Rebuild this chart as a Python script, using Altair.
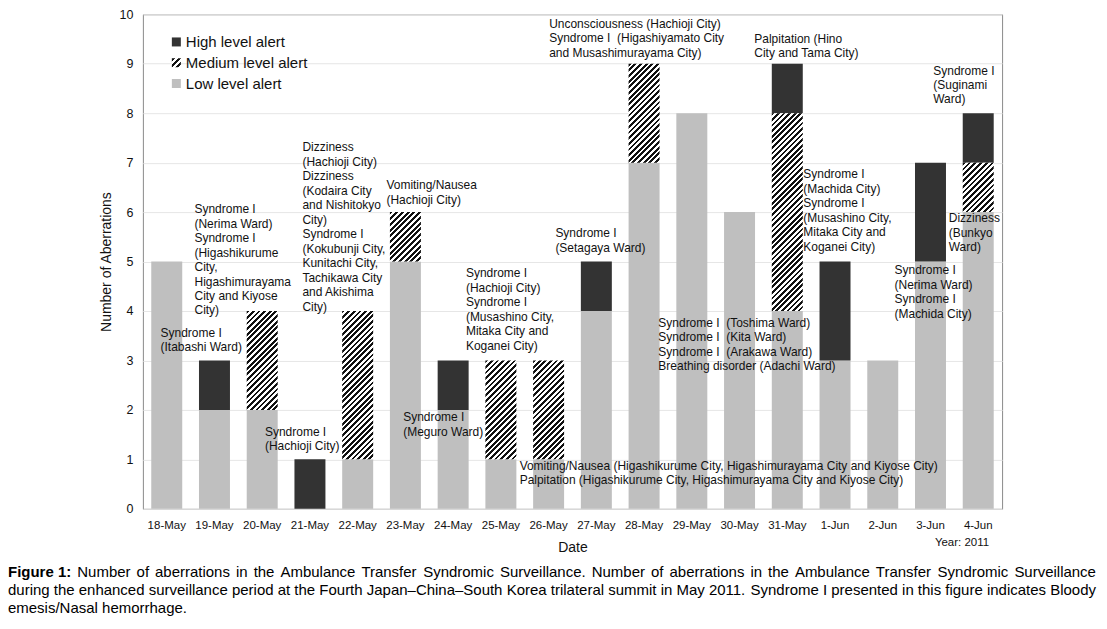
import altair as alt
import pandas as pd

# ---------------- data ----------------
dates = ["18-May", "19-May", "20-May", "21-May", "22-May", "23-May", "24-May",
         "25-May", "26-May", "27-May", "28-May", "29-May", "30-May", "31-May",
         "1-Jun", "2-Jun", "3-Jun", "4-Jun"]
low = [5, 2, 2, 0, 1, 5, 2, 1, 1, 4, 7, 8, 6, 4, 3, 3, 5, 6]
medium = [0, 0, 2, 0, 3, 1, 0, 2, 2, 0, 2, 0, 0, 4, 0, 0, 0, 1]
high = [0, 1, 0, 1, 0, 0, 1, 0, 0, 1, 0, 0, 0, 1, 2, 0, 2, 1]

legend_labels = ["High level alert", "Medium level alert", "Low level alert"]

ann_texts = [
    "Syndrome I\n(Itabashi Ward)",
    "Syndrome I\n(Nerima Ward)\nSyndrome I\n(Higashikurume\nCity,\nHigashimurayama\nCity and Kiyose\nCity)",
    "Dizziness\n(Hachioji City)\nDizziness\n(Kodaira City\nand Nishitokyo\nCity)\nSyndrome I\n(Kokubunji City,\nKunitachi City,\nTachikawa City\nand Akishima\nCity)",
    "Syndrome I\n(Hachioji City)",
    "Vomiting/Nausea\n(Hachioji City)",
    "Syndrome I\n(Meguro Ward)",
    "Syndrome I\n(Hachioji City)\nSyndrome I\n(Musashino City,\nMitaka City and\nKoganei City)",
    "Vomiting/Nausea (Higashikurume City, Higashimurayama City and Kiyose City)\nPalpitation (Higashikurume City, Higashimurayama City and Kiyose City)",
    "Syndrome I\n(Setagaya Ward)",
    "Unconsciousness (Hachioji City)\nSyndrome I\u00a0 (Higashiyamato City\nand Musashimurayama City)",
    "Syndrome I\u00a0 (Toshima Ward)\nSyndrome I\u00a0 (Kita Ward)\nSyndrome I\u00a0 (Arakawa Ward)\nBreathing disorder (Adachi Ward)",
    "Palpitation (Hino\nCity and Tama City)",
    "Syndrome I\n(Machida City)\nSyndrome I\n(Musashino City,\nMitaka City and\nKoganei City)",
    "Syndrome I\n(Nerima Ward)\nSyndrome I\n(Machida City)",
    "Syndrome I\n(Suginami\nWard)",
    "Dizziness\n(Bunkyo\nWard)",
]
ann_dates = ["19-May", "19-May", "21-May", "21-May", "23-May", "24-May", "25-May",
             "26-May", "27-May", "28-May", "29-May", "31-May", "31-May", "3-Jun",
             "4-Jun", "4-Jun"]
# anchor (first-line baseline) in data units, and left offset in px from band centre
ann_y = [3.475, 5.98, 7.226, 1.481, 6.459, 1.772, 4.681, 0.794, 5.489, 9.731,
         3.683, 9.42, 6.681, 4.747, 8.782, 5.792]
ann_dx = [-54, -20, -7.5, -45, -19, -50, -35, -29, -41, -95, -33.5, -33, 16, -36, -45, -29.5]

caption_bold = "Figure 1:"
caption_lines = [
    "Number of aberrations in the Ambulance Transfer Syndromic Surveillance. Number of aberrations in the Ambulance Transfer Syndromic Surveillance",
    "during the enhanced surveillance period at the Fourth Japan\u2013China\u2013South Korea trilateral summit in May 2011. Syndrome I presented in this figure indicates Bloody",
    "emesis/Nasal hemorrhage.",
]
year_note = "Year: 2011"

# ---------------- styles ----------------
FONT = "Liberation Sans"
LOW_C = "#bfbfbf"
HIGH_C = "#333333"
W, H = 860, 495
STEP = W / len(dates)
P_IN = 0.351
BAR_W = STEP * (1 - P_IN)
UNIT = H / 10.0
CAP_SIZE = 15
CAP_X0, CAP_X1 = -135, 954      # caption left / right edge (px, relative to plot)
CAP_Y0, CAP_DY = 563, 18

# Arial / Liberation Sans advance widths (1/1000 em), used to justify the caption
REG = dict(zip("abcdefghijklmnopqrstuvwxyz",
               [556, 556, 500, 556, 556, 278, 556, 556, 222, 222, 500, 222, 833,
                556, 556, 556, 556, 333, 500, 278, 556, 500, 722, 500, 500, 500]))
REG.update(zip("ABCDEFGHIJKLMNOPQRSTUVWXYZ",
               [667, 667, 722, 722, 667, 611, 778, 722, 278, 500, 667, 556, 833,
                722, 778, 667, 778, 722, 667, 611, 722, 667, 944, 667, 667, 611]))
REG.update({c: 556 for c in "0123456789"})
REG.update({" ": 278, ".": 278, ",": 278, ":": 278, "/": 278, "\u2013": 556,
            "(": 333, ")": 333, "-": 333})
BOLD = {"F": 611, "i": 278, "g": 611, "u": 611, "r": 389, "e": 556, " ": 278,
        "1": 556, ":": 333}


def tw(s, table):
    return sum(table.get(ch, 556) for ch in s) * CAP_SIZE / 1000.0


def hatch(w, h, period=5.6, ink=0.5):
    s = (w + h) / (w * w + h * h)
    n = max(1, round((w + h) / period))
    stops = []
    for i in range(n):
        a = i / n
        b = (i + ink) / n
        c = (i + 1) / n
        stops += [
            alt.GradientStop(color="#111111", offset=a),
            alt.GradientStop(color="#111111", offset=b),
            alt.GradientStop(color="#ffffff", offset=b),
            alt.GradientStop(color="#ffffff", offset=c),
        ]
    return alt.LinearGradient(gradient="linear", stops=stops, x1=0, y1=0, x2=w * s, y2=h * s)


# ---------------- tables ----------------
rows = []
for d, lo, me, hi in zip(dates, low, medium, high):
    base = 0
    for lev, v in (("Low", lo), ("Medium", me), ("High", hi)):
        if v > 0:
            rows.append({"date": d, "level": lev, "value": v, "y": base, "y2": base + v})
        base += v
bars = pd.DataFrame(rows)

ann = pd.DataFrame({"idx": list(range(len(ann_texts))), "date": ann_dates,
                    "y": ann_y, "text": ann_texts})
leg = pd.DataFrame({"i": list(range(len(legend_labels))), "label": legend_labels})
yr = pd.DataFrame({"text": [year_note]})

# justified caption: one text item per word
cap_rows = []
for li, line in enumerate(caption_lines):
    toks = [(w, False) for w in line.split(" ")]
    if li == 0:
        toks = [(caption_bold, True)] + toks
    widths = [tw(t, BOLD if b else REG) for t, b in toks]
    last = li == len(caption_lines) - 1
    gap = tw(" ", REG) if last else (CAP_X1 - CAP_X0 - sum(widths)) / (len(toks) - 1)
    x = CAP_X0
    for (t, b), wd in zip(toks, widths):
        cap_rows.append({"w": t, "x": x, "y": CAP_Y0 + CAP_DY * li, "bold": b})
        x += wd + gap
cap = pd.DataFrame(cap_rows)

x_enc = alt.X("date:N", sort=dates,
              scale=alt.Scale(paddingInner=P_IN, paddingOuter=P_IN / 2),
              axis=alt.Axis(title="Date", labelAngle=0, ticks=False, domain=False,
                            labelFontSize=11.5, labelPadding=11, titleFontSize=14,
                            titleFontWeight="normal", titlePadding=9,
                            labelColor="#111", titleColor="#111"))
y_enc = alt.Y("y:Q", scale=alt.Scale(domain=[0, 10], nice=False),
              axis=alt.Axis(title="Number of Aberrations", values=list(range(11)),
                            ticks=False, domain=False, labelFontSize=12.5,
                            labelPadding=10, titleFontSize=14, titleFontWeight="normal",
                            titlePadding=6, gridColor="#e6e6e6",
                            labelColor="#111", titleColor="#111"))

bar_base = alt.Chart(bars)
layers = [
    bar_base.transform_filter(alt.datum.level == "Low").mark_bar(fill=LOW_C)
    .encode(x=x_enc, y=y_enc, y2="y2:Q"),
    bar_base.transform_filter(alt.datum.level == "High").mark_bar(fill=HIGH_C)
    .encode(x=x_enc, y=y_enc, y2="y2:Q"),
]
for k in sorted(set(v for v in medium if v > 0)):
    layers.append(
        bar_base.transform_filter((alt.datum.level == "Medium") & (alt.datum.value == k))
        .mark_bar(fill=hatch(BAR_W, UNIT * k))
        .encode(x=x_enc, y=y_enc, y2="y2:Q")
    )

for i, dx in enumerate(ann_dx):
    layers.append(
        alt.Chart(ann).transform_filter(alt.datum.idx == i)
        .mark_text(align="left", baseline="alphabetic", dx=dx, lineBreak="\n",
                   lineHeight=14.5, fontSize=12, font=FONT, color="#111")
        .encode(x=x_enc, y=y_enc, text="text:N")
    )

# legend
leg_text = (alt.Chart(leg).transform_calculate(ly="33.2 + 20.8 * datum.i")
            .mark_text(align="left", baseline="alphabetic", fontSize=15, font=FONT, color="#111")
            .encode(x=alt.value(43), y=alt.Y("ly:Q", scale=None), text="label:N"))
layers.append(leg_text)
leg_sym = alt.Chart(leg).transform_calculate(c0="23.2 + 20.8 * datum.i", c1="32.2 + 20.8 * datum.i")
for i, fill in enumerate([HIGH_C, hatch(9, 9, period=6), LOW_C]):
    layers.append(
        leg_sym.transform_filter(alt.datum.i == i)
        .mark_rect(fill=fill)
        .encode(x=alt.value(29), x2=alt.value(38),
                y=alt.Y("c0:Q", scale=None), y2=alt.Y2("c1:Q"))
    )

# year note
layers.append(alt.Chart(yr).mark_text(align="right", baseline="alphabetic", fontSize=11.5,
                                      font=FONT, color="#111")
              .encode(x=alt.value(847), y=alt.value(532), text="text:N"))

# caption (justified, word by word)
cap_base = alt.Chart(cap)
for is_bold in (True, False):
    layers.append(
        cap_base.transform_filter(alt.datum.bold == is_bold)
        .mark_text(align="left", baseline="alphabetic", fontSize=CAP_SIZE, font=FONT,
                   fontWeight="bold" if is_bold else "normal", color="#000")
        .encode(x=alt.X("x:Q", scale=None), y=alt.Y("y:Q", scale=None), text="w:N")
    )

chart = (alt.layer(*layers)
         .properties(width=W, height=H,
                     padding={"left": 0, "top": 0, "right": 2, "bottom": 0})
         .configure(font=FONT)
         .configure_view(stroke="#8a8a8a", strokeWidth=1))

chart.save("out.html", embed_options={"renderer": "svg", "actions": False})
